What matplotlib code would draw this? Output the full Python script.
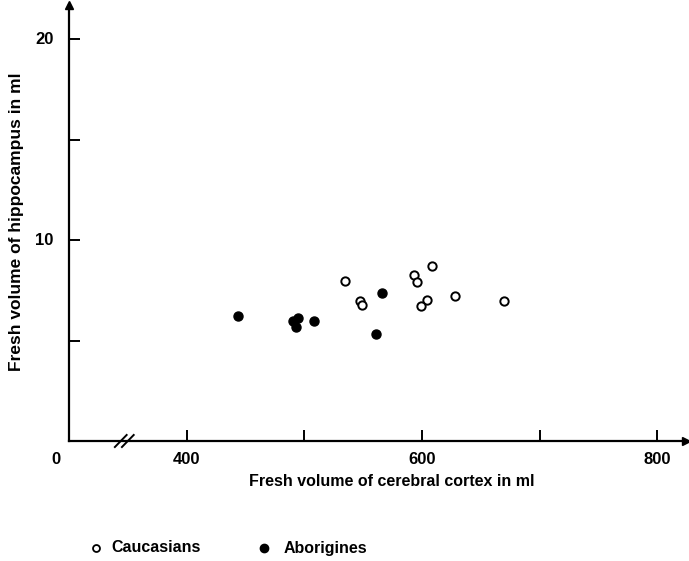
import matplotlib
matplotlib.use("Agg")
import matplotlib.pyplot as plt

# Data (fresh volume of cerebral cortex vs hippocampus, ml)
cauc_x = [609, 593, 596, 604, 599, 628, 670, 535, 547, 549]
cauc_y = [8.7, 8.25, 7.9, 7.0, 6.7, 7.2, 6.95, 7.95, 6.95, 6.75]
abor_x = [444, 490, 495, 493, 508, 566, 561]
abor_y = [6.2, 5.95, 6.1, 5.65, 5.95, 7.35, 5.35]

xtick_pos = [400, 500, 600, 700, 800]
xlabel_pos = [300, 400, 600, 800]
xlabel_txt = ["0", "400", "600", "800"]
ytick_pos = [5, 10, 15, 20]
ylabel_pos = [10, 20]

plt.rcParams['font.family'] = ['Liberation Sans', 'DejaVu Sans']

fig = plt.figure(figsize=(6.89, 5.61), dpi=100)
W, H = 689, 561
left, right, top, bottom = 69, 686, 5, 441
ax = fig.add_axes([left / W, (H - bottom) / H, (right - left) / W, (bottom - top) / H])

ax.set_xlim(300, 824.5)
ax.set_ylim(0, 21.7)

ax.plot(cauc_x, cauc_y, 'o', ms=6, mfc='white', mec='black', mew=1.4, clip_on=False)
ax.plot(abor_x, abor_y, 'o', ms=6.5, mfc='black', mec='black', clip_on=False)

for s in ['top', 'right']:
    ax.spines[s].set_visible(False)
for s in ['left', 'bottom']:
    ax.spines[s].set_linewidth(1.6)

ax.set_xticks(xtick_pos)
ax.set_xticklabels([])
ax.set_yticks(ytick_pos)
ax.set_yticklabels([])
ax.tick_params(direction='in', length=8, width=1.4)

# tick labels
for p, t in zip(xlabel_pos, xlabel_txt):
    ax.text(p if p != 300 else 289, -0.55, t, ha='center', va='top', fontsize=12,
            fontweight='bold')
for p in ylabel_pos:
    ax.text(287, p, str(p), ha='right', va='center', fontsize=12, fontweight='bold')

# axis arrows
ax.plot([0], [1], marker='^', color='black', ms=6, transform=ax.transAxes, clip_on=False)
ax.plot([1], [0], marker='>', color='black', ms=6, transform=ax.transAxes, clip_on=False)

# break marks
for bx in [344, 350]:
    ax.plot([bx - 5, bx + 5], [-0.3, 0.3], color='black', lw=1.4, clip_on=False)

fig.text(392 / W, 1 - 482 / H, "Fresh volume of cerebral cortex in ml", ha='center',
         va='center', fontsize=11.5, fontweight='bold')
fig.text(17 / W, 1 - 222 / H, "Fresh volume of hippocampus in ml", ha='center',
         va='center', rotation=90, fontsize=12.5, fontweight='bold')

# legend
ly = 1 - 548 / H
fig.lines.append(plt.Line2D([96 / W], [ly], marker='o', ms=5, mfc='white', mec='black',
                            mew=1.3, transform=fig.transFigure))
fig.text(111 / W, ly, "Caucasians", ha='left', va='center', fontsize=11.5, fontweight='bold')
fig.lines.append(plt.Line2D([264 / W], [ly], marker='o', ms=6, mfc='black', mec='black',
                            transform=fig.transFigure))
fig.text(284 / W, ly, "Aborigines", ha='left', va='center', fontsize=11.5, fontweight='bold')

fig.savefig("out.png", dpi=100)
